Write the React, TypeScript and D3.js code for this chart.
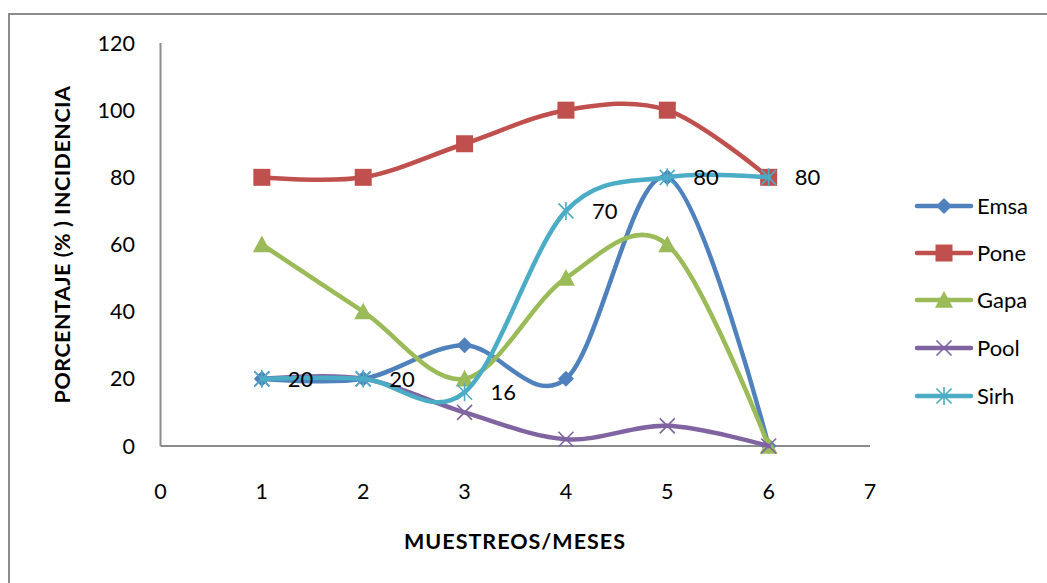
import React from "react";
import * as d3 from "d3";

const months = [1, 2, 3, 4, 5, 6];
const emsa = [20, 20, 30, 20, 80, 0];
const pone = [80, 80, 90, 100, 100, 80];
const gapa = [60, 40, 20, 50, 60, 0];
const pool = [20, 20, 10, 2, 6, 0];
const sirh = [20, 20, 16, 70, 80, 80];
const sirhLabels = [20, 20, 16, 70, 80, 80];

const xTicks = [0, 1, 2, 3, 4, 5, 6, 7];
const yTicks = [0, 20, 40, 60, 80, 100, 120];

const seriesNames = ["Emsa", "Pone", "Gapa", "Pool", "Sirh"];
const seriesValues = [emsa, pone, gapa, pool, sirh];
const seriesColors = ["#4F81BD", "#C0504D", "#9BBB59", "#8064A2", "#4BACC6"];
const markerKinds = ["diamond", "square", "triangle", "x", "star"];

const W = 1047;
const H = 583;
const FONT = "Lato, 'Open Sans', sans-serif";

const x = d3.scaleLinear().domain([0, 7]).range([160.5, 870]);
const y = d3.scaleLinear().domain([0, 120]).range([446, 43]);

function Marker({ kind, cx, cy, color }: { kind: string; cx: number; cy: number; color: string }) {
  if (kind === "diamond") {
    const s = 8;
    return <path d={`M${cx},${cy - s}L${cx + s},${cy}L${cx},${cy + s}L${cx - s},${cy}Z`} fill={color} />;
  }
  if (kind === "square") {
    const s = 8.5;
    return <rect x={cx - s} y={cy - s} width={2 * s} height={2 * s} fill={color} />;
  }
  if (kind === "triangle") {
    const s = 9;
    return <path d={`M${cx},${cy - s}L${cx + s},${cy + s * 0.85}L${cx - s},${cy + s * 0.85}Z`} fill={color} />;
  }
  if (kind === "x") {
    const s = 7.5;
    return (
      <path
        d={`M${cx - s},${cy - s}L${cx + s},${cy + s}M${cx - s},${cy + s}L${cx + s},${cy - s}`}
        stroke={color}
        strokeWidth={1.6}
        fill="none"
      />
    );
  }
  const s = 7.5;
  return (
    <path
      d={`M${cx - s},${cy - s}L${cx + s},${cy + s}M${cx - s},${cy + s}L${cx + s},${cy - s}M${cx},${cy - s * 1.2}L${cx},${cy + s * 1.2}`}
      stroke={color}
      strokeWidth={1.6}
      fill="none"
    />
  );
}

export default function App() {
  const line = d3
    .line<number>()
    .x((_, i) => x(months[i]))
    .y((v) => y(v))
    .curve(d3.curveCardinal.tension(0));

  const legendX0 = 917;
  const legendX1 = 971;
  const legendY = [206, 253, 300, 348, 396];

  return (
    <svg
      width={W}
      height={H}
      style={{ position: "absolute", left: 0, top: 0, background: "#fff" }}
      fontFamily={FONT}
    >
      <rect x={0} y={0} width={W} height={H} fill="#fff" />
      {/* chart frame, running off the right and bottom edges */}
      <rect x={9} y={14} width={W + 20} height={H + 20} fill="none" stroke="#8c8c8c" strokeWidth={2} />

      {/* axes */}
      <line x1={x(0)} x2={x(0)} y1={y(120)} y2={y(0)} stroke="#8c8c8c" strokeWidth={2} />
      <line x1={x(0)} x2={x(7)} y1={y(0)} y2={y(0)} stroke="#8c8c8c" strokeWidth={2} />

      {yTicks.map((t) => (
        <text key={t} x={135} y={y(t)} dy="0.35em" textAnchor="end" fontSize={21.5} fill="#000">
          {t}
        </text>
      ))}
      {xTicks.map((t) => (
        <text key={t} x={x(t)} y={491} dy="0.35em" textAnchor="middle" fontSize={21.5} fill="#000">
          {t}
        </text>
      ))}

      <text
        transform={`translate(62,${(y(120) + y(0)) / 2}) rotate(-90)`}
        textAnchor="middle"
        dy="0.35em"
        fontSize={21.5}
        letterSpacing={0.5}
        fontWeight="bold"
        fill="#000"
      >
        PORCENTAJE (% ) INCIDENCIA
      </text>
      <text
        x={515}
        y={541}
        dy="0.35em"
        textAnchor="middle"
        fontSize={21.5}
        letterSpacing={1}
        fontWeight="bold"
        fill="#000"
      >
        MUESTREOS/MESES
      </text>

      {/* series */}
      {seriesValues.map((vals, si) => (
        <g key={seriesNames[si]}>
          <path
            d={line(vals) || ""}
            fill="none"
            stroke={seriesColors[si]}
            strokeWidth={4.5}
            strokeLinecap="round"
            strokeLinejoin="round"
          />
          {vals.map((v, i) => (
            <Marker key={i} kind={markerKinds[si]} cx={x(months[i])} cy={y(v)} color={seriesColors[si]} />
          ))}
        </g>
      ))}

      {/* data labels */}
      {sirhLabels.map((v, i) => (
        <text
          key={i}
          x={x(months[i]) + 26}
          y={y(sirh[i])}
          dy="0.35em"
          fontSize={22}
          fill="#000"
        >
          {v}
        </text>
      ))}

      {/* legend */}
      {seriesNames.map((name, si) => (
        <g key={name}>
          <line
            x1={legendX0}
            x2={legendX1}
            y1={legendY[si]}
            y2={legendY[si]}
            stroke={seriesColors[si]}
            strokeWidth={4.5}
            strokeLinecap="round"
          />
          <Marker kind={markerKinds[si]} cx={(legendX0 + legendX1) / 2} cy={legendY[si]} color={seriesColors[si]} />
          <text x={977} y={legendY[si]} dy="0.35em" fontSize={22} fill="#000">
            {name}
          </text>
        </g>
      ))}
    </svg>
  );
}
